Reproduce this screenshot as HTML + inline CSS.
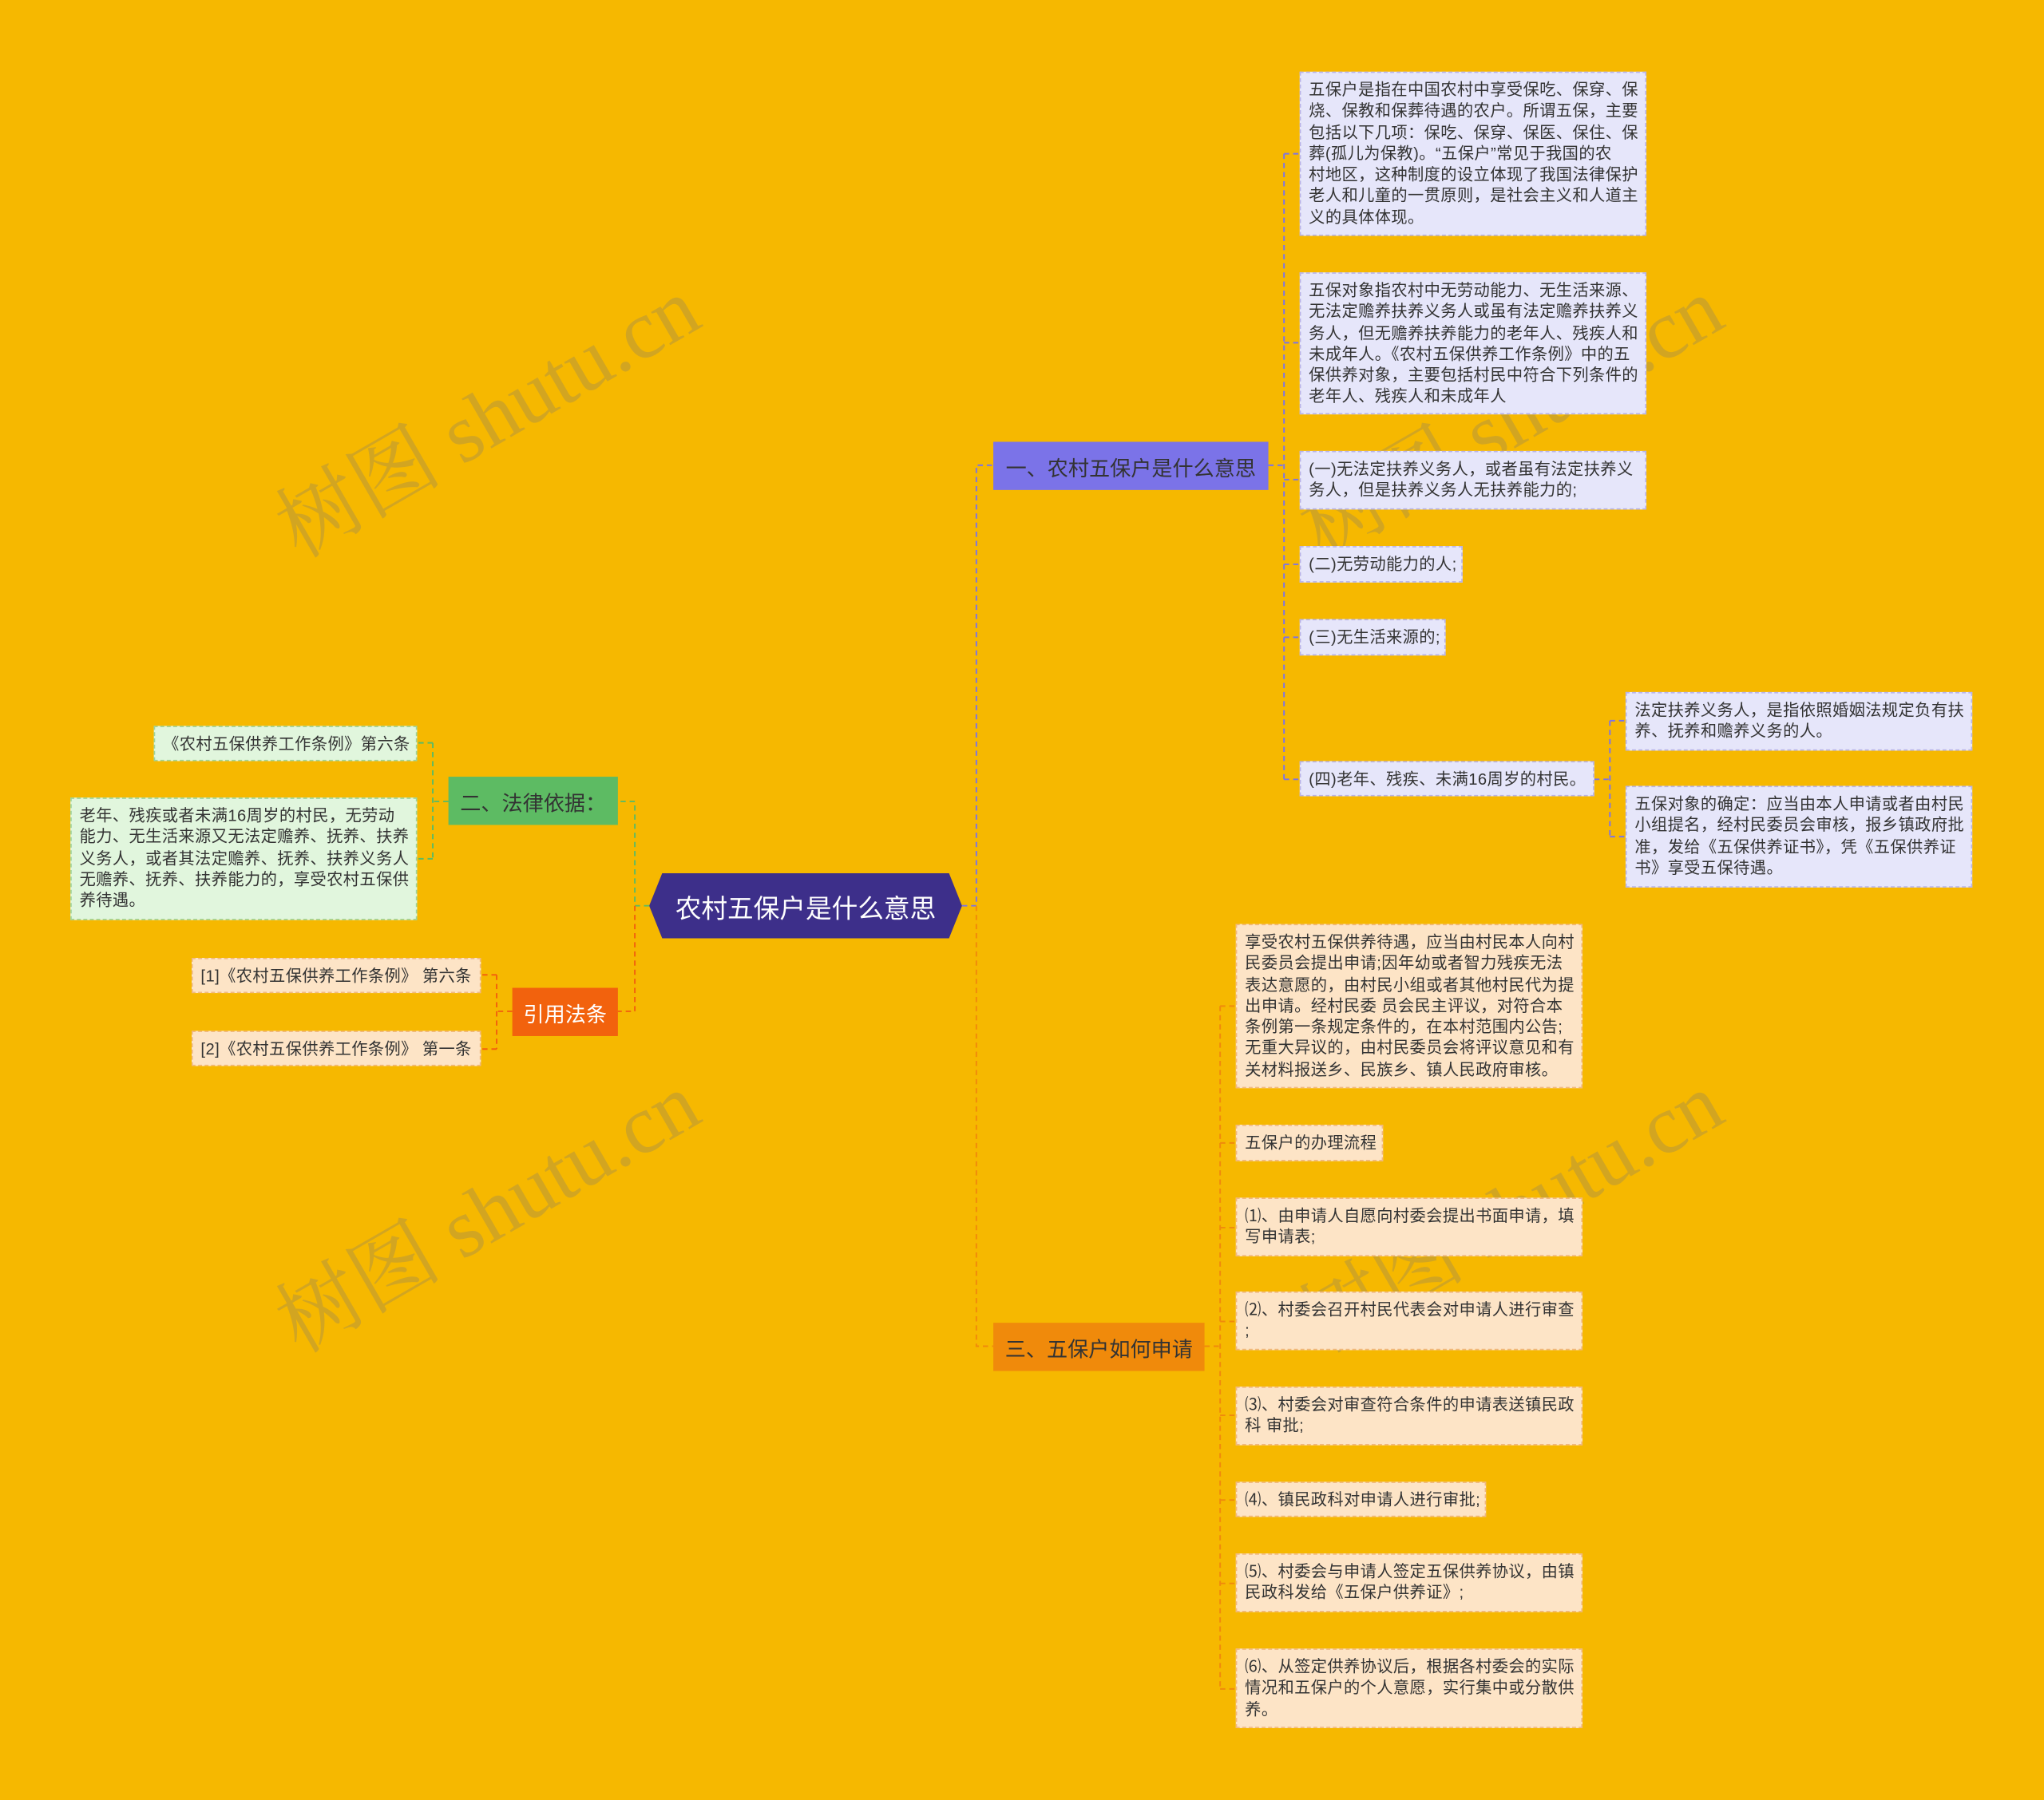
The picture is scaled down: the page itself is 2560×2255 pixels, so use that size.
<!DOCTYPE html>
<html><head><meta charset="utf-8">
<style>
html,body{margin:0;padding:0;width:2560px;height:2255px;overflow:hidden;background:#F6B800;}
#c{position:absolute;left:0;top:0;width:1568px;height:1381px;transform:scale(1.63265);transform-origin:0 0;font-family:"Liberation Sans","Noto Sans CJK SC",sans-serif;}
.b{position:absolute;box-sizing:border-box;font-size:12.4px;line-height:16.3px;color:#333;padding:5px 6px;white-space:nowrap;letter-spacing:0.25px;}
.p{background:#E6E6FA;border:1px dashed #b8b3e8;}
.o{background:#FDE4C6;border:1px dashed #f0b880;}
.g{background:#E1F6DD;border:1px dashed #9fd49a;}
.m{position:absolute;box-sizing:border-box;font-size:16px;display:flex;align-items:center;justify-content:center;color:#333;}
.wm{position:absolute;font-family:"Liberation Serif","Noto Serif CJK SC",serif;font-size:64px;color:rgba(120,120,120,0.28);transform:rotate(-30deg);white-space:nowrap;}
</style></head><body>
<div id="c">
<svg width="1568" height="1381" style="position:absolute;left:0;top:0" fill="none" stroke-width="1.2" stroke-dasharray="4,3">
<g stroke="#7B73E8">
<path d="M738 695 H749 V357 H762"/>
<path d="M973 357 H985 M985 118 V598 M985 118 H997 M985 263 H997 M985 368 H997 M985 433 H997 M985 489 H997 M985 598 H997"/>
<path d="M1223 598 H1235 M1235 553 V642 M1235 553 H1247 M1235 642 H1247"/>
</g>
<g stroke="#F08A0B">
<path d="M749 695 V1033 H762"/>
<path d="M924 1033 H936 M936 772 V1296 M936 772 H948 M936 877 H948 M936 942 H948 M936 1014 H948 M936 1086 H948 M936 1151 H948 M936 1215 H948 M936 1296 H948"/>
</g>
<g stroke="#5DBB63">
<path d="M498 695 H487 V615 H474 M344 615 H332 M332 570 V659 M332 570 H320 M332 659 H320"/>
</g>
<g stroke="#F2620D">
<path d="M487 695 V776 H474 M393 776 H381 M381 748 V805 M381 748 H369 M381 805 H369"/>
</g>
</svg>
<div class="wm" style="left:192px;top:270px">树图 shutu.cn</div>
<div class="wm" style="left:192px;top:880px">树图 shutu.cn</div>
<div class="wm" style="left:977px;top:270px">树图 shutu.cn</div>
<div class="wm" style="left:977px;top:880px">树图 shutu.cn</div>

<div class="m" style="left:498px;top:670px;width:240px;height:50px;background:#3D2F8A;color:#fff;font-size:20px;clip-path:polygon(10px 0,230px 0,240px 25px,230px 50px,10px 50px,0 25px)">农村五保户是什么意思</div>
<div class="m" style="left:762px;top:339px;width:211px;height:37px;background:#7B73E8">一、农村五保户是什么意思</div>
<div class="m" style="left:762px;top:1015px;width:162px;height:37px;background:#F08A0B">三、五保户如何申请</div>
<div class="m" style="left:344px;top:596px;width:130px;height:37px;background:#5DBB63">二、法律依据：</div>
<div class="m" style="left:393px;top:758px;width:81px;height:37px;background:#F2620D;color:#fff">引用法条</div>

<div class="b p" style="left:997px;top:55px;width:266px;height:126px">五保户是指在中国农村中享受保吃、保穿、保<br>烧、保教和保葬待遇的农户。所谓五保，主要<br>包括以下几项：保吃、保穿、保医、保住、保<br>葬(孤儿为保教)。“五保户”常见于我国的农<br>村地区，这种制度的设立体现了我国法律保护<br>老人和儿童的一贯原则，是社会主义和人道主<br>义的具体体现。</div>
<div class="b p" style="left:997px;top:209px;width:266px;height:109px">五保对象指农村中无劳动能力、无生活来源、<br>无法定赡养扶养义务人或虽有法定赡养扶养义<br>务人，但无赡养扶养能力的老年人、残疾人和<br>未成年人。《农村五保供养工作条例》中的五<br>保供养对象，主要包括村民中符合下列条件的<br>老年人、残疾人和未成年人</div>
<div class="b p" style="left:997px;top:346px;width:266px;height:45px">(一)无法定扶养义务人，或者虽有法定扶养义<br>务人，但是扶养义务人无扶养能力的;</div>
<div class="b p" style="left:997px;top:419px;width:125px;height:28px">(二)无劳动能力的人;</div>
<div class="b p" style="left:997px;top:475px;width:112px;height:28px">(三)无生活来源的;</div>
<div class="b p" style="left:997px;top:584px;width:226px;height:27px">(四)老年、残疾、未满16周岁的村民。</div>
<div class="b p" style="left:1247px;top:531px;width:266px;height:45px">法定扶养义务人，是指依照婚姻法规定负有扶<br>养、抚养和赡养义务的人。</div>
<div class="b p" style="left:1247px;top:603px;width:266px;height:78px">五保对象的确定：应当由本人申请或者由村民<br>小组提名，经村民委员会审核，报乡镇政府批<br>准，发给《五保供养证书》，凭《五保供养证<br>书》享受五保待遇。</div>

<div class="b o" style="left:948px;top:709px;width:266px;height:126px">享受农村五保供养待遇，应当由村民本人向村<br>民委员会提出申请;因年幼或者智力残疾无法<br>表达意愿的，由村民小组或者其他村民代为提<br>出申请。经村民委 员会民主评议，对符合本<br>条例第一条规定条件的，在本村范围内公告;<br>无重大异议的，由村民委员会将评议意见和有<br>关材料报送乡、民族乡、镇人民政府审核。</div>
<div class="b o" style="left:948px;top:863px;width:113px;height:28px">五保户的办理流程</div>
<div class="b o" style="left:948px;top:919px;width:266px;height:45px">⑴、由申请人自愿向村委会提出书面申请，填<br>写申请表;</div>
<div class="b o" style="left:948px;top:991px;width:266px;height:45px">⑵、村委会召开村民代表会对申请人进行审查<br>;</div>
<div class="b o" style="left:948px;top:1064px;width:266px;height:45px">⑶、村委会对审查符合条件的申请表送镇民政<br>科 审批;</div>
<div class="b o" style="left:948px;top:1137px;width:192px;height:27px">⑷、镇民政科对申请人进行审批;</div>
<div class="b o" style="left:948px;top:1192px;width:266px;height:45px">⑸、村委会与申请人签定五保供养协议，由镇<br>民政科发给《五保户供养证》;</div>
<div class="b o" style="left:948px;top:1265px;width:266px;height:61px">⑹、从签定供养协议后，根据各村委会的实际<br>情况和五保户的个人意愿，实行集中或分散供<br>养。</div>

<div class="b g" style="left:118px;top:557px;width:202px;height:27px">《农村五保供养工作条例》第六条</div>
<div class="b g" style="left:54px;top:612px;width:266px;height:94px">老年、残疾或者未满16周岁的村民，无劳动<br>能力、无生活来源又无法定赡养、抚养、扶养<br>义务人，或者其法定赡养、抚养、扶养义务人<br>无赡养、抚养、扶养能力的，享受农村五保供<br>养待遇。</div>
<div class="b o" style="left:147px;top:735px;width:222px;height:27px">[1]《农村五保供养工作条例》 第六条</div>
<div class="b o" style="left:147px;top:791px;width:222px;height:27px">[2]《农村五保供养工作条例》 第一条</div>
</div>
</body></html>
